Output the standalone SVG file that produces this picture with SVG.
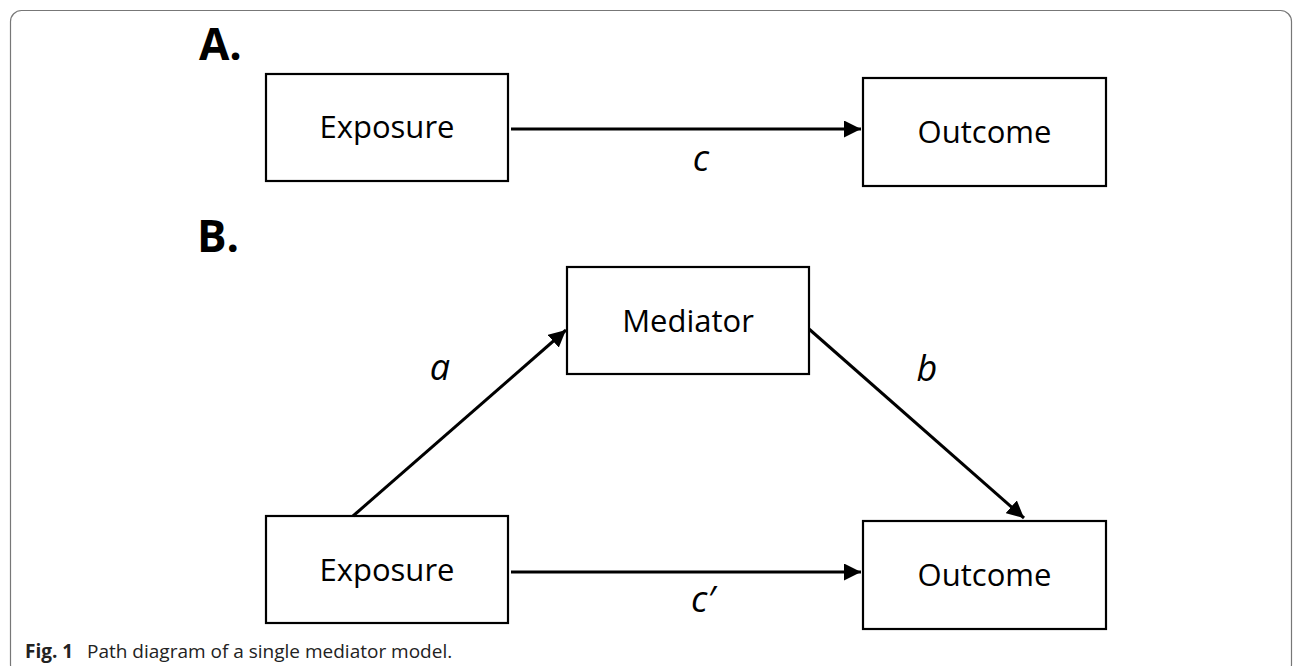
<svg xmlns="http://www.w3.org/2000/svg" width="1293" height="666" viewBox="0 0 1293 666">
  <defs>
    <marker id="arr" viewBox="0 0 17 17" refX="17" refY="8.5" markerWidth="17" markerHeight="17" markerUnits="userSpaceOnUse" orient="auto">
      <path d="M0,0 L17,8.5 L0,17 Z" fill="#000"/>
    </marker>
    <style>
      .box { fill: #fff; stroke: #000; stroke-width: 2.2; }
      .lbl { font-family: "Open Sans", "Noto Sans", sans-serif; font-size: 31px; fill: #000; text-anchor: middle; }
      .path { font-family: "Open Sans", "Noto Sans", sans-serif; font-size: 36px; font-style: italic; fill: #000; text-anchor: middle; }
      .panel { font-family: "Open Sans", "Noto Sans", sans-serif; font-size: 44px; font-weight: bold; fill: #000; }
      .edge { stroke: #000; stroke-width: 3; fill: none; marker-end: url(#arr); }
      .cap { font-family: "Open Sans", "Noto Sans", sans-serif; font-size: 19px; fill: #222; }
    </style>
  </defs>
  <rect x="10.5" y="10.5" width="1281" height="665" rx="11" fill="#fff" stroke="#777" stroke-width="1.2"/>

  <text class="panel" x="199" y="60">A.</text>
  <text class="panel" x="197" y="252">B.</text>

  <g id="exposureA">
    <rect class="box" x="266" y="74" width="242" height="107"/>
    <text class="lbl" x="387" y="138">Exposure</text>
  </g>
  <g id="outcomeA">
    <rect class="box" x="863" y="78" width="243" height="108"/>
    <text class="lbl" x="984.5" y="143">Outcome</text>
  </g>
  <g id="mediator">
    <rect class="box" x="567" y="267" width="242" height="107"/>
    <text class="lbl" x="688" y="332">Mediator</text>
  </g>
  <g id="exposureB">
    <rect class="box" x="266" y="516" width="242" height="107"/>
    <text class="lbl" x="387" y="581">Exposure</text>
  </g>
  <g id="outcomeB">
    <rect class="box" x="863" y="521" width="243" height="108"/>
    <text class="lbl" x="984.5" y="586">Outcome</text>
  </g>

  <g id="connectors">
    <line class="edge" x1="511" y1="129" x2="861" y2="129"/>
    <line class="edge" x1="353" y1="516" x2="566" y2="330"/>
    <line class="edge" x1="809" y1="329" x2="1024" y2="518"/>
    <line class="edge" x1="511" y1="572" x2="861" y2="572"/>
    <text class="path" x="701" y="171">c</text>
    <text class="path" x="440" y="380">a</text>
    <text class="path" x="927" y="381">b</text>
    <text class="path" x="703" y="612">c′</text>
  </g>

  <text class="cap" x="25" y="658"><tspan font-weight="bold">Fig. 1</tspan><tspan x="87">Path diagram of a single mediator model.</tspan></text>
</svg>
